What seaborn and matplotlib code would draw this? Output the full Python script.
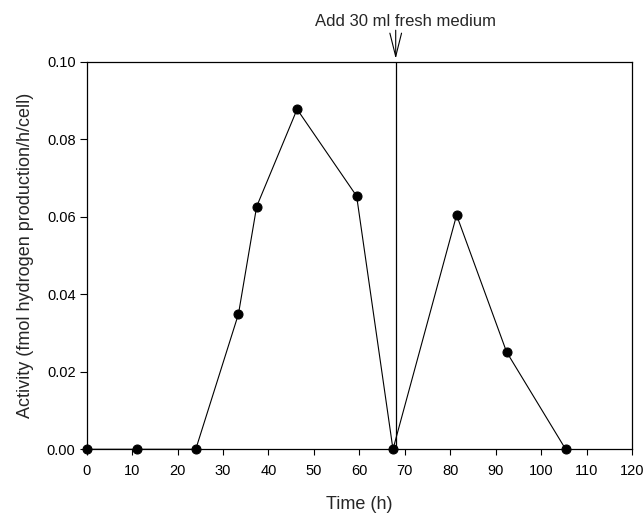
import matplotlib
matplotlib.use("Agg")
import matplotlib.pyplot as plt
import numpy as np
import pandas as pd
import seaborn as sns

# values
time_h = [0, 11, 24, 33.4, 37.4, 46.3, 59.4, 67.4, 81.4, 92.4, 105.4]
activity = [0, 0, 0, 0.0349, 0.0626, 0.0877, 0.0653, 0, 0.0604, 0.0251, 0]
medium_time = 68
x_ticks = list(range(0, 121, 10))
y_ticks = [0.00, 0.02, 0.04, 0.06, 0.08, 0.10]

sns.set_style("ticks")
plt.rcParams["font.family"] = ["Liberation Sans", "DejaVu Sans"]
plt.rcParams["font.size"] = 10.5

df = pd.DataFrame({"Time (h)": time_h, "Activity": activity})

fig = plt.figure(figsize=(6.44, 5.13), dpi=100)
ax = fig.add_axes([0.1346, 0.1242, 0.9814 - 0.1346, 0.880 - 0.1242])

sns.lineplot(
    data=df,
    x="Time (h)",
    y="Activity",
    color="black",
    linewidth=0.8,
    marker="o",
    markersize=6.5,
    markeredgecolor="black",
    markerfacecolor="black",
    ax=ax,
    clip_on=False,
    zorder=3,
)

ax.axvline(medium_time, color="black", linewidth=0.9, zorder=2)

ax.set_xlim(0, 120)
ax.set_ylim(0, 0.10)
ax.set_xticks(x_ticks)
ax.set_yticks(y_ticks)
ax.set_yticklabels(["%.2f" % v for v in y_ticks])
ax.tick_params(direction="out", width=0.8, labelsize=10.5, colors="black")
ax.tick_params(axis="x", length=4.5, pad=6)
ax.tick_params(axis="y", length=5, pad=3)
for side in ["top", "right", "left", "bottom"]:
    ax.spines[side].set_visible(True)
    ax.spines[side].set_linewidth(0.9)
    ax.spines[side].set_color("black")

ax.set_xlabel("Time (h)", fontsize=13, labelpad=13)
ax.set_ylabel("Activity (fmol hydrogen production/h/cell)", fontsize=13, labelpad=9)

# arrow and note above the plot
ax.annotate(
    "",
    xy=(medium_time, 0.10),
    xytext=(medium_time, 0.1088),
    arrowprops=dict(arrowstyle="->,head_length=1.6,head_width=0.4", color="black", lw=0.8),
    annotation_clip=False,
)
ax.text(70.2, 0.1091, "Add 30 ml fresh medium", ha="center", va="baseline", fontsize=12)

fig.savefig("out.png", dpi=100)
